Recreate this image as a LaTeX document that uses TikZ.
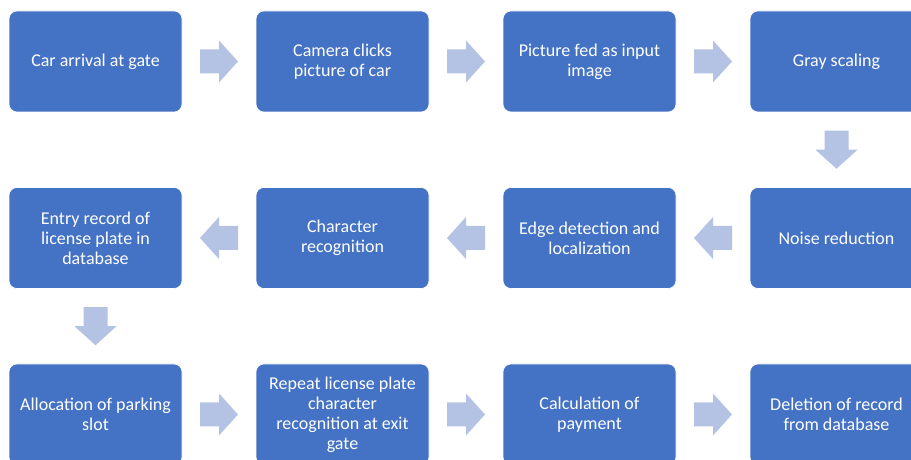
\documentclass[tikz,border=0pt]{standalone}
\usepackage{fontspec}
\setmainfont{Carlito}
\usetikzlibrary{calc}
\definecolor{boxblue}{RGB}{68,114,196}
\definecolor{arrowblue}{RGB}{180,194,227}
\tikzset{
  stepbox/.style={rectangle, rounded corners=8pt, fill=boxblue, draw=white, line width=0.6pt,
    minimum width=173pt, minimum height=101pt, inner sep=0pt, outer sep=0pt,
    text=white, align=center, font=\fontsize{18}{20}\selectfont},
  blockarrow/.pic={\fill[arrowblue] (-19,-12) -- (0,-12) -- (0,-21) -- (19,0) -- (0,21) -- (0,12) -- (-19,12) -- cycle;}
}
\begin{document}
\begin{tikzpicture}[x=1pt,y=1pt]
\fill[white] (0,0) rectangle (911,460);
\useasboundingbox (0,0) rectangle (911,460);
% row 1
\node[stepbox] (n1) at (95.5,398.5) {Car arrival at gate};
\node[stepbox] (n2) at (342.5,398.5) {Camera clicks\\picture of car};
\node[stepbox] (n3) at (589.5,398.5) {Picture fed as input\\image};
\node[stepbox] (n4) at (836.5,398.5) {Gray scaling};
% row 2
\node[stepbox] (n5) at (836.5,222) {Noise reduction};
\node[stepbox] (n6) at (589.5,222) {Edge detection and\\localization};
\node[stepbox] (n7) at (342.5,222) {Character\\recognition};
\node[stepbox] (n8) at (95.5,222) {Entry record of\\license plate in\\database};
% row 3
\node[stepbox] (n9) at (95.5,45.5) {Allocation of parking\\slot};
\node[stepbox] (n10) at (342.5,45.5) {Repeat license plate\\character\\recognition at exit\\gate};
\node[stepbox] (n11) at (589.5,45.5) {Calculation of\\payment};
\node[stepbox] (n12) at (836.5,45.5) {Deletion of record\\from database};
% arrows
\pic at ($(n1.east)!0.5!(n2.west)$) {blockarrow};
\pic at ($(n2.east)!0.5!(n3.west)$) {blockarrow};
\pic at ($(n3.east)!0.5!(n4.west)$) {blockarrow};
\pic[rotate=-90] at ($(n4.south)!0.5!(n5.north)$) {blockarrow};
\pic[rotate=180] at ($(n5.west)!0.5!(n6.east)$) {blockarrow};
\pic[rotate=180] at ($(n6.west)!0.5!(n7.east)$) {blockarrow};
\pic[rotate=180] at ($(n7.west)!0.5!(n8.east)$) {blockarrow};
\pic[rotate=-90] at ($(n8.south)!0.5!(n9.north)$) {blockarrow};
\pic at ($(n9.east)!0.5!(n10.west)$) {blockarrow};
\pic at ($(n10.east)!0.5!(n11.west)$) {blockarrow};
\pic at ($(n11.east)!0.5!(n12.west)$) {blockarrow};
\end{tikzpicture}
\end{document}
